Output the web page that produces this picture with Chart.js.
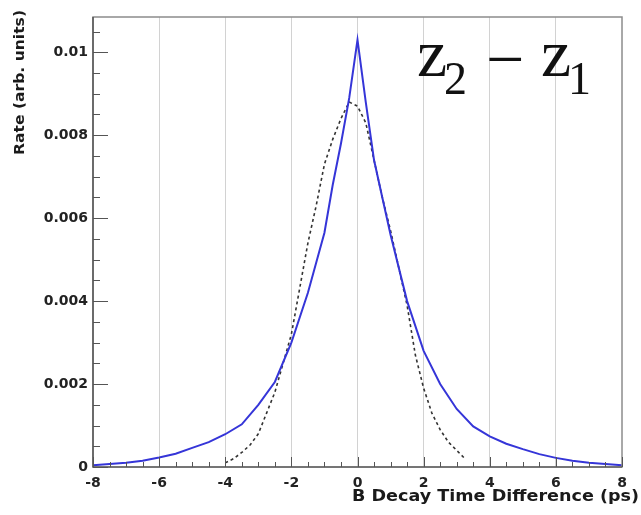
<!DOCTYPE html>
<html>
<head>
<meta charset="utf-8">
<script src="https://cdn.jsdelivr.net/npm/chart.js@4/dist/chart.umd.min.js"></script>
<style>
  html, body { margin: 0; padding: 0; background: #ffffff; }
  #wrap { width: 641px; height: 515px; }
</style>
</head>
<body>
<div id="wrap"><canvas id="c" width="641" height="515"></canvas></div>
<script>
// ---- data ----
const blueT = [-8, -7.5, -7, -6.5, -6, -5.5, -5, -4.5, -4, -3.5, -3, -2.5, -2, -1.5, -1, -0.75, -0.5, -0.25, 0, 0.25, 0.5, 0.75, 1, 1.5, 2, 2.5, 3, 3.5, 4, 4.5, 5, 5.5, 6, 6.5, 7, 7.5, 8];
const blueRate = [0.00004, 0.00007, 0.00010, 0.00015, 0.00023, 0.00032, 0.00046, 0.00060, 0.00079, 0.00103, 0.00150, 0.00205, 0.00300, 0.00420, 0.00565, 0.0068, 0.0078, 0.0089, 0.0103, 0.0088, 0.0074, 0.0065, 0.0056, 0.0040, 0.0028, 0.00200, 0.00140, 0.00098, 0.00074, 0.00056, 0.00043, 0.00031, 0.00022, 0.00015, 0.00010, 0.00007, 0.00004];

const dashT = [-4, -3.75, -3.5, -3.25, -3, -2.75, -2.5, -2.25, -2, -1.75, -1.5, -1.25, -1, -0.75, -0.5, -0.25, 0, 0.25, 0.5, 0.75, 1, 1.25, 1.5, 1.75, 2, 2.25, 2.5, 2.75, 3, 3.25];
const dashRate = [0.0001, 0.0002, 0.00035, 0.00053, 0.0008, 0.0013, 0.0018, 0.0025, 0.0032, 0.0043, 0.0054, 0.0063, 0.0073, 0.0079, 0.0084, 0.0088, 0.0087, 0.0083, 0.0074, 0.0065, 0.0057, 0.0048, 0.0039, 0.0027, 0.0019, 0.0013, 0.0009, 0.0006, 0.0004, 0.0002];

const xTickValues = [-8, -6, -4, -2, 0, 2, 4, 6, 8];
const xTickLabels = ['-8', '-6', '-4', '-2', '0', '2', '4', '6', '8'];
const yTickValues = [0, 0.002, 0.004, 0.006, 0.008, 0.01];
const yTickLabels = ['0', '0.002', '0.004', '0.006', '0.008', '0.01'];
const xMinorStep = 0.5;
const yMinorStep = 0.0005;

const xTitle = 'B Decay Time Difference (ps)';
const yTitle = 'Rate (arb. units)';

// ---- chart ----
const toPts = (xs, ys) => xs.map((x, i) => ({ x: x, y: ys[i] }));
const labelFont = '"DejaVu Sans", "Liberation Sans", Arial, sans-serif';

function fitText(ctx, text, x, y, width) {
  const w = ctx.measureText(text).width;
  ctx.save();
  ctx.translate(x, y);
  ctx.scale(width / w, 1);
  ctx.textAlign = 'left';
  ctx.fillText(text, 0, 0);
  ctx.restore();
}

const framePlugin = {
  id: 'frameTicks',
  afterDatasetsDraw(chart) {
    const { ctx, chartArea: a, scales: { x, y } } = chart;
    ctx.save();
    ctx.strokeStyle = '#8c8c8c';
    ctx.lineWidth = 1.5;
    ctx.strokeRect(a.left, a.top, a.right - a.left, a.bottom - a.top);
    ctx.strokeStyle = '#444';
    ctx.lineWidth = 1.2;
    ctx.beginPath();
    ctx.moveTo(a.left, a.top); ctx.lineTo(a.left, a.bottom); ctx.lineTo(a.right, a.bottom);
    ctx.stroke();
    ctx.strokeStyle = '#555';
    ctx.lineWidth = 1;
    ctx.beginPath();
    for (let v = 0; v <= y.max + 1e-9; v += yMinorStep) {
      const py = Math.round(y.getPixelForValue(v)) + 0.5;
      const major = yTickValues.some(t => Math.abs(t - v) < 1e-9);
      ctx.moveTo(a.left, py);
      ctx.lineTo(a.left + (major ? 15 : 7), py);
    }
    for (let v = x.min; v <= x.max + 1e-9; v += xMinorStep) {
      const px = Math.round(x.getPixelForValue(v)) + 0.5;
      const major = xTickValues.some(t => Math.abs(t - v) < 1e-9);
      ctx.moveTo(px, a.bottom);
      ctx.lineTo(px, a.bottom - (major ? 10 : 5));
    }
    ctx.stroke();
    ctx.restore();
  },
  afterDraw(chart) {
    const { ctx } = chart;
    ctx.save();
    ctx.fillStyle = '#1a1a1a';
    ctx.textBaseline = 'middle';
    ctx.font = 'bold 15px ' + labelFont;
    fitText(ctx, xTitle, 352, 497, 287);
    ctx.save();
    ctx.translate(20, 155);
    ctx.rotate(-Math.PI / 2);
    ctx.font = 'bold 14px ' + labelFont;
    fitText(ctx, yTitle, 0, 0, 145);
    ctx.restore();
    ctx.restore();

    ctx.save();
    ctx.fillStyle = '#111';
    ctx.textBaseline = 'alphabetic';
    ctx.textAlign = 'left';
    const big = '68px "Liberation Serif", "Times New Roman", serif';
    const sub = '46px "Liberation Serif", "Times New Roman", serif';
    ctx.font = big; ctx.fillText('z', 417, 76);
    ctx.font = sub; ctx.fillText('2', 444, 94);
    ctx.font = big; ctx.fillText('\u2212', 486, 82);
    ctx.font = big; ctx.fillText('z', 541, 76);
    ctx.font = sub; ctx.fillText('1', 568, 94);
    ctx.restore();
  }
};

new Chart(document.getElementById('c'), {
  type: 'scatter',
  data: {
    datasets: [
      {
        label: 'z2 - z1',
        data: toPts(blueT, blueRate),
        showLine: true,
        borderColor: '#3535d8',
        backgroundColor: '#3535d8',
        borderWidth: 2,
        pointRadius: 0,
        tension: 0
      },
      {
        label: 'reference',
        data: toPts(dashT, dashRate),
        showLine: true,
        borderColor: '#333333',
        backgroundColor: '#333333',
        borderWidth: 1.6,
        borderDash: [3, 3],
        pointRadius: 0,
        tension: 0
      }
    ]
  },
  options: {
    responsive: false,
    animation: false,
    devicePixelRatio: 1,
    layout: { padding: { left: 0, top: 17, right: 19, bottom: 0 } },
    plugins: { legend: { display: false }, tooltip: { enabled: false } },
    scales: {
      x: {
        type: 'linear',
        min: -8, max: 8,
        afterBuildTicks: s => { s.ticks = xTickValues.map(v => ({ value: v })); },
        afterFit: s => { s.height = 48; },
        ticks: {
          padding: 8,
          maxRotation: 0,
          color: '#222',
          font: { family: labelFont, size: 14, weight: 'bold' },
          callback: (v) => { const i = xTickValues.indexOf(v); return i >= 0 ? xTickLabels[i] : ''; }
        },
        grid: {
          drawTicks: false,
          color: ctx => (ctx.tick && (ctx.tick.value === -8 || ctx.tick.value === 8)) ? 'rgba(0,0,0,0)' : '#d2d2d2',
          lineWidth: 1
        },
        border: { display: false }
      },
      y: {
        type: 'linear',
        min: 0, max: 0.01085,
        afterBuildTicks: s => { s.ticks = yTickValues.map(v => ({ value: v })); },
        afterFit: s => { s.width = 93; },
        ticks: {
          padding: 5,
          color: '#222',
          font: { family: labelFont, size: 14, weight: 'bold' },
          callback: (v) => { const i = yTickValues.findIndex(t => Math.abs(t - v) < 1e-9); return i >= 0 ? yTickLabels[i] : ''; }
        },
        grid: { display: false, drawTicks: false },
        border: { display: false }
      }
    }
  },
  plugins: [framePlugin]
});
</script>
</body>
</html>
